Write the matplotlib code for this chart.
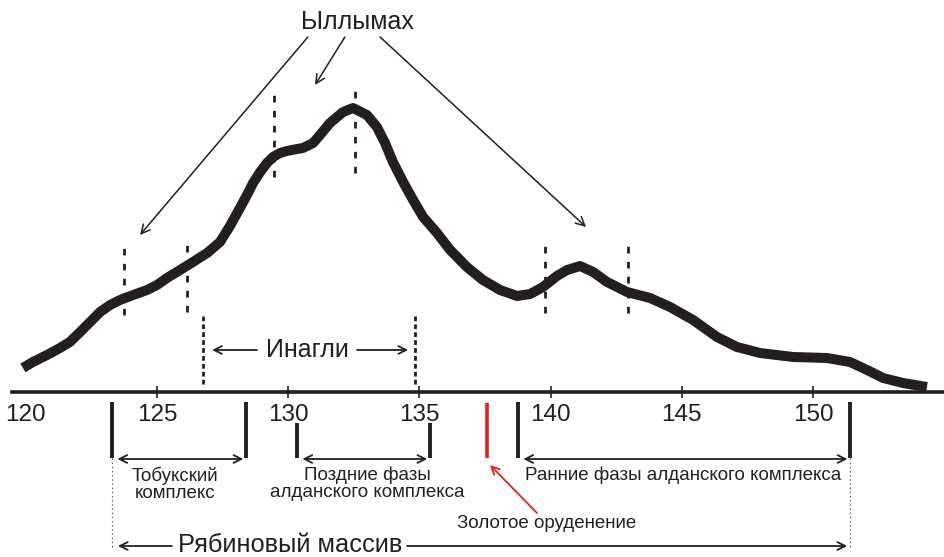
import matplotlib.pyplot as plt

plt.rcParams['font.family'] = ['Liberation Sans', 'DejaVu Sans']
plt.rcParams['lines.scale_dashes'] = False

# age (Ma) and relative frequency
age = [119.89, 120.27, 120.81, 121.30, 121.68, 122.07, 122.45, 122.83, 123.21,
       123.59, 124.09, 124.62, 125.00, 125.38, 125.88, 126.37, 126.91, 127.40,
       127.78, 128.16, 128.43, 128.66, 128.93, 129.19, 129.42, 129.69, 129.95,
       130.34, 130.56, 130.95, 131.21, 131.59, 132.09, 132.47, 133.00, 133.38,
       133.69, 133.99, 134.38, 134.76, 135.14, 135.67, 136.17, 136.81, 137.42,
       138.07, 138.72, 139.22, 139.71, 140.24, 140.63, 141.12, 141.62, 142.15,
       142.91, 143.79, 144.55, 145.43, 146.34, 147.10, 147.98, 149.24, 150.53,
       151.41, 152.06, 152.67, 153.43, 154.34]
density = [2.4, 3.0, 3.7, 4.4, 5.0, 6.0, 7.0, 8.0, 8.7,
           9.2, 9.7, 10.2, 10.7, 11.4, 12.2, 13.0, 13.9, 15.0,
           16.6, 18.4, 19.7, 20.9, 22.0, 22.9, 23.5, 23.9, 24.1,
           24.3, 24.4, 24.9, 25.7, 26.9, 28.0, 28.4, 27.7, 26.5,
           24.9, 23.0, 21.0, 19.2, 17.5, 15.9, 14.2, 12.5, 11.2,
           10.2, 9.6, 9.8, 10.5, 11.6, 12.2, 12.6, 12.0, 11.0,
           10.0, 9.4, 8.5, 7.2, 5.5, 4.5, 3.9, 3.5, 3.4,
           3.0, 2.2, 1.4, 0.9, 0.5]

tick_ages = [120, 125, 130, 135, 140, 145, 150]

# Ыллымах peak bounds
yllymakh_x = [123.74, 126.14, 129.46, 132.55, 139.79, 142.95]
yllymakh_lo = [7.7, 8.0, 21.5, 21.9, 7.9, 7.9]
yllymakh_hi = [14.5, 14.9, 29.9, 30.2, 14.9, 14.9]
yllymakh_tips = [(124.35, 15.7), (131.02, 30.7), (141.35, 16.5)]
yllymakh_tails = [(130.75, 35.5), (132.16, 35.5), (133.50, 35.5)]

# Инагли range
inagli = [126.75, 134.83]

# complexes below the axis
tobuk = (123.29, 128.39)
late_aldan = (130.34, 135.40)
early_aldan = (138.76, 151.41)
gold = 137.58

fig = plt.figure(figsize=(9.44, 5.57), dpi=100)
ax = fig.add_axes([0, 0, 1, 1])
ax.set_xlim(119.017, 154.99)
ax.set_ylim(-16.5, 39.2)

black = '#231f20'

ax.plot(age, density, color=black, lw=7.2, solid_capstyle='butt',
        solid_joinstyle='round', zorder=5)

# axis line
for s in ['top', 'left', 'right']:
    ax.spines[s].set_visible(False)
ax.spines['bottom'].set_position(('data', 0))
ax.spines['bottom'].set_bounds(119.47, 154.99)
ax.spines['bottom'].set_linewidth(2.6)
ax.spines['bottom'].set_color(black)
ax.set_yticks([])
ax.set_xticks(tick_ages)
ax.set_xticklabels([str(t) for t in tick_ages])
ax.tick_params(axis='x', direction='inout', length=8, width=1.2, pad=4.5,
               labelsize=17.5, color=black, labelcolor=black)
ax.xaxis.get_major_ticks()[0].tick1line.set_visible(False)

# dashed markers
for x, lo, hi in zip(yllymakh_x, yllymakh_lo, yllymakh_hi):
    ax.plot([x, x], [lo, hi], color=black, lw=2, ls=(0, (4.8, 6.0)))
for x in inagli:
    ax.plot([x, x], [0.8, 7.6], color=black, lw=2, ls=(0, (3.4, 2.3)))

ax.text(132.62, 37.0, 'Ыллымах', ha='center', va='center', fontsize=18, color=black)
for tail, tip in zip(yllymakh_tails, yllymakh_tips):
    ax.annotate('', xy=tip, xytext=tail,
                arrowprops=dict(arrowstyle='->', color=black, lw=1.1,
                                mutation_scale=16, shrinkA=0, shrinkB=0))

ax.text(130.72, 4.2, 'Инагли', ha='center', va='center', fontsize=18, color=black)
ax.annotate('', xy=(127.10, 4.2), xytext=(128.81, 4.2),
            arrowprops=dict(arrowstyle='->', color=black, lw=1.3,
                            mutation_scale=14, shrinkA=0, shrinkB=0))
ax.annotate('', xy=(134.57, 4.2), xytext=(132.62, 4.2),
            arrowprops=dict(arrowstyle='->', color=black, lw=1.3,
                            mutation_scale=14, shrinkA=0, shrinkB=0))

# bars and ranges below the axis
for (l, r), top in [(tobuk, -1.0), (late_aldan, -3.1), (early_aldan, -1.0)]:
    ax.plot([l, l], [top, -6.6], color=black, lw=2.8, solid_capstyle='butt')
    ax.plot([r, r], [top, -6.6], color=black, lw=2.8, solid_capstyle='butt')
    ax.annotate('', xy=(r - 0.1, -6.7), xytext=(l + 0.2, -6.7),
                arrowprops=dict(arrowstyle='<->', color=black, lw=1.3,
                                mutation_scale=14, shrinkA=0, shrinkB=0))
ax.plot([gold, gold], [-1.1, -6.6], color='#e2231a', lw=2.6, solid_capstyle='butt')

ax.text(125.69, -9.2, 'Тобукский\nкомплекс', ha='center', va='center',
        fontsize=13.5, linespacing=1.0, color=black)
ax.text(133.0, -9.2, 'Поздние фазы\nалданского комплекса', ha='center', va='center',
        fontsize=13.5, linespacing=1.0, color=black)
ax.text(145.05, -8.3, 'Ранние фазы алданского комплекса', ha='center', va='center',
        fontsize=13.5, color=black)
ax.text(139.86, -13.1, 'Золотое оруденение', ha='center', va='center',
        fontsize=13.5, color=black)
ax.annotate('', xy=(137.69, -7.3), xytext=(139.48, -12.1),
            arrowprops=dict(arrowstyle='->', color='#e2231a', lw=1.3,
                            mutation_scale=14, shrinkA=0, shrinkB=0))

# Рябиновый массив
for x in [tobuk[0], early_aldan[1]]:
    ax.plot([x, x], [-6.6, -15.6], color='#555555', lw=0.8, ls=(0, (1, 2)))
ax.text(130.07, -15.3, 'Рябиновый массив', ha='center', va='center',
        fontsize=18.3, color=black)
ax.annotate('', xy=(123.51, -15.4), xytext=(125.57, -15.4),
            arrowprops=dict(arrowstyle='->', color=black, lw=1.3,
                            mutation_scale=14, shrinkA=0, shrinkB=0))
ax.annotate('', xy=(151.30, -15.4), xytext=(134.53, -15.4),
            arrowprops=dict(arrowstyle='->', color=black, lw=1.3,
                            mutation_scale=14, shrinkA=0, shrinkB=0))

fig.savefig('out.png', dpi=100)
